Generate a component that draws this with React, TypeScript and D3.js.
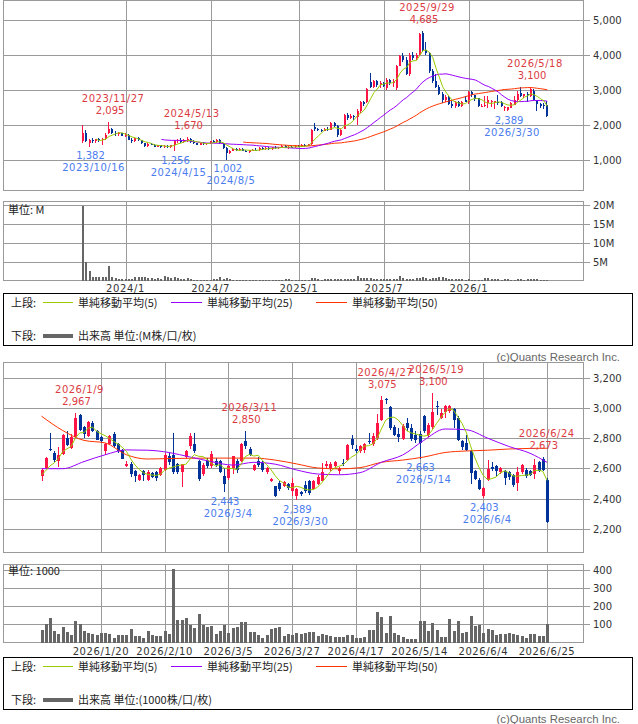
import React from "react";
import * as d3 from "d3";

type OHLC = [number, number, number, number]; // open, high, low, close

// ================= upper panel : weekly =================
const weeklyFirstMonday = "2023/10/2";
const weeklyOHLC: OHLC[] = [
  [1530,1990,1500,1780],[1780,1850,1510,1530],[1500,1600,1382,1560],[1560,1620,1500,1540],[1540,1600,1480,1590],
  [1590,1640,1520,1560],[1560,1620,1420,1600],[1600,1760,1580,1720],[1760,2095,1740,1900],[1900,1920,1740,1780],
  [1780,1820,1700,1730],[1730,1790,1690,1760],[1760,1780,1680,1700],[1700,1760,1660,1720],[1720,1740,1560,1580],
  [1580,1620,1500,1540],[1540,1640,1520,1620],[1620,1650,1540,1560],[1560,1580,1460,1480],[1480,1500,1360,1390],
  [1390,1480,1370,1460],[1460,1500,1420,1440],[1440,1460,1360,1380],[1380,1440,1360,1420],[1420,1440,1340,1360],
  [1360,1430,1340,1400],[1400,1420,1350,1380],[1380,1440,1330,1420],[1420,1560,1256,1530],[1530,1600,1480,1570],
  [1570,1620,1500,1520],[1520,1600,1480,1560],[1560,1670,1520,1600],[1600,1620,1500,1520],[1520,1560,1460,1480],
  [1480,1500,1420,1440],[1440,1500,1420,1480],[1480,1520,1440,1460],[1460,1500,1440,1490],[1490,1540,1460,1530],
  [1530,1580,1500,1520],[1520,1600,1500,1580],[1580,1600,1460,1480],[1480,1500,1320,1340],[1340,1360,1002,1200],
  [1200,1300,1180,1270],[1270,1340,1250,1320],[1320,1350,1260,1280],[1280,1330,1260,1310],[1310,1340,1250,1270],
  [1270,1300,1220,1240],[1240,1290,1200,1280],[1280,1320,1250,1300],[1300,1330,1260,1280],[1280,1360,1270,1340],
  [1340,1370,1300,1320],[1320,1360,1290,1350],[1350,1380,1300,1320],[1320,1370,1300,1360],[1360,1390,1320,1340],
  [1340,1380,1310,1370],[1370,1420,1350,1400],[1400,1420,1330,1350],[1350,1390,1320,1380],[1380,1410,1340,1360],
  [1360,1420,1350,1400],[1400,1430,1360,1380],[1380,1450,1370,1430],[1430,1460,1380,1400],[1400,1470,1390,1450],
  [1460,1900,1440,1850],[1950,2050,1820,1880],[1880,1920,1820,1860],[1860,1900,1800,1840],[1840,1920,1820,1900],
  [1900,1940,1840,1860],[1860,2100,1850,2050],[2050,2080,1940,1980],[1980,2000,1667,1720],[1720,1900,1700,1850],
  [1900,2320,1880,2280],[2280,2350,2150,2200],[2200,2320,2180,2260],[2260,2300,2150,2220],[2220,2450,2000,2400],
  [2400,2680,2350,2650],[2650,2700,2540,2600],[2650,3060,2620,3040],[3240,3480,3050,3100],[3100,3300,3050,3250],
  [3250,3300,3100,3150],[3150,3250,3050,3200],[3200,3230,3080,3120],[3050,3350,3000,3300],[3300,3320,3150,3200],
  [3200,3320,3100,3250],[3050,3720,3000,3700],[3700,4000,3680,3980],[3980,4050,3800,3850],[3850,3950,3420,3450],
  [3450,4050,3400,4000],[4000,4080,3850,3900],[3900,4050,3850,4000],[4000,4620,3980,4600],[4620,4685,4100,4150],
  [4150,4380,4000,4050],[4050,4100,3500,3550],[3550,3600,3200,3250],[3250,3450,3050,3080],[3080,3150,2850,2880],
  [2880,2950,2640,2700],[2700,2850,2650,2800],[2800,2820,2560,2600],[2600,2700,2500,2530],[2530,2680,2500,2650],
  [2650,2700,2520,2550],[2550,2675,2514,2668],[2700,2835,2645,2657],[2652,2967,2612,2934],[2954,2960,2800,2845],
  [2848,2855,2690,2745],[2760,2770,2513,2550],[2525,2590,2515,2535],[2558,2835,2514,2578],[2628,2833,2480,2716],
  [2650,2712,2515,2694],[2652,2685,2443,2680],[2650,2850,2570,2620],[2652,2678,2510,2530],[2481,2535,2408,2503],
  [2415,2525,2389,2520],[2500,2650,2490,2641],[2585,2818,2562,2718],[2712,2958,2700,2900],[2921,3075,2811,2822],
  [2826,2892,2775,2883],[2899,2955,2663,2850],[2822,3100,2810,3015],[2980,3020,2716,2724],[2712,2720,2403,2598],
  [2606,2640,2492,2540],[2560,2630,2452,2555],[2560,2680,2240,2246],
];
const weeklyVolumeM: number[] = [
  19.6,4.8,2.6,0.9,0.8,1.0,0.9,1.0,3.9,1.0,0.6,0.5,0.5,
  0.4,0.4,0.5,1.0,0.9,0.8,0.9,0.6,0.7,0.5,0.6,0.5,1.2,
  0.9,0.7,0.8,0.6,0.5,0.4,0.6,0.3,0.2,0.2,0.2,0.2,0.2,
  0.2,0.3,0.4,0.8,0.5,0.7,0.3,0.2,0.1,0.1,0.1,0.1,0.1,
  0.1,0.1,0.1,0.1,0.1,0.1,0.1,0.2,0.1,0.2,0.4,0.4,0.2,
  0.1,0.1,0.1,0.2,0.2,0.6,0.6,0.3,0.2,0.4,0.3,0.5,0.4,
  0.5,0.4,0.5,0.3,0.4,0.3,1.2,0.7,0.6,0.7,0.7,0.5,0.4,
  0.3,0.3,0.4,0.5,0.4,0.3,1.3,0.6,0.5,0.5,0.4,0.6,0.7,
  0.8,0.6,0.5,0.7,0.6,0.8,1.0,0.6,0.5,0.4,0.4,0.3,0.3,
  0.2,0.35,0.26,0.22,0.23,0.2,0.55,0.56,0.43,0.34,0.43,0.18,0.29,
  0.27,0.19,0.17,0.37,0.39,0.07,0.3,0.3,0.43,0.46,0.25,0.19,0.22,
];
const weeklyHighLabels: [string, number][] = [["2023/11/27",2095],["2024/5/13",1670],["2025/9/29",4685],["2026/5/18",3100]];
const weeklyLowLabels: [string, number][] = [["2023/10/16",1382],["2024/4/15",1256],["2024/8/5",1002],["2026/3/30",2389]];
const weeklyPriceTicks = [1000,2000,3000,4000,5000];
const weeklyVolumeTicks = [5,10,15,20];
const weeklyVolumeTickLabels = ["5M","10M","15M","20M"];

// ================= lower panel : daily =================
const dailyFirst = "2025/12/25";
const dailyLast = "2026/6/25";
const marketHolidays = ["2025/12/31","2026/1/1","2026/1/2","2026/1/12","2026/2/11","2026/2/23","2026/3/20","2026/4/29","2026/5/4","2026/5/5","2026/5/6"];
const dailyOHLC: OHLC[] = [
  [2547,2602,2514,2591],[2602,2675,2595,2668],[2730,2835,2712,2720],[2701,2712,2645,2657],[2652,2743,2612,2690],
  [2697,2830,2690,2822],[2800,2848,2745,2756],[2736,2830,2730,2808],[2808,2967,2795,2934],[2954,2960,2845,2852],
  [2875,2880,2800,2830],[2811,2915,2805,2905],[2900,2910,2840,2845],[2848,2855,2785,2790],[2808,2815,2770,2778],
  [2712,2770,2690,2762],[2760,2820,2752,2812],[2830,2840,2735,2745],[2760,2770,2700,2712],[2723,2730,2660,2665],
  [2613,2650,2607,2628],[2630,2640,2545,2560],[2584,2590,2513,2550],[2525,2565,2515,2558],[2584,2590,2515,2558],
  [2525,2590,2518,2576],[2570,2575,2535,2540],[2575,2580,2515,2535],[2558,2610,2550,2602],[2591,2700,2585,2690],
  [2680,2700,2625,2642],[2690,2835,2565,2578],[2628,2635,2560,2578],[2578,2632,2480,2628],[2672,2720,2665,2712],
  [2745,2833,2730,2817],[2762,2833,2700,2716],[2650,2655,2515,2527],[2562,2635,2553,2620],[2650,2668,2600,2613],
  [2613,2712,2602,2694],[2652,2668,2612,2625],[2646,2657,2568,2575],[2550,2600,2443,2498],[2536,2625,2525,2613],
  [2602,2685,2562,2680],[2650,2660,2570,2592],[2650,2770,2640,2760],[2782,2850,2730,2745],[2730,2740,2685,2690],
  [2591,2628,2585,2620],[2652,2678,2612,2620],[2635,2650,2575,2592],[2575,2606,2562,2602],[2520,2535,2510,2530],
  [2481,2485,2408,2415],[2503,2515,2450,2462],[2481,2514,2474,2510],[2496,2503,2459,2470],[2452,2535,2415,2503],
  [2415,2470,2389,2465],[2445,2452,2420,2430],[2492,2514,2437,2448],[2518,2525,2426,2440],[2462,2525,2455,2520],
  [2500,2555,2490,2545],[2520,2635,2515,2575],[2613,2650,2602,2628],[2602,2640,2580,2628],[2613,2650,2606,2641],
  [2585,2612,2562,2597],[2636,2665,2613,2628],[2657,2760,2650,2756],[2795,2818,2730,2756],[2730,2752,2700,2718],
  [2712,2756,2700,2745],[2723,2767,2700,2760],[2782,2833,2760,2772],[2760,2833,2745,2811],[2800,2958,2789,2900],
  [2921,3075,2914,3053],[3057,3065,3025,3050],[3002,3010,2855,2866],[2870,2888,2811,2822],[2826,2866,2775,2805],
  [2795,2892,2789,2883],[2899,2932,2844,2866],[2866,2892,2782,2795],[2822,2844,2767,2790],[2830,2845,2663,2765],
  [2945,2955,2835,2850],[2822,2900,2810,2888],[2870,3100,2860,2975],[3012,3046,2954,3005],[2935,2990,2925,2965],
  [2972,3020,2932,3015],[2980,3020,2965,3015],[2990,3000,2866,2921],[2932,2945,2782,2790],[2778,2789,2723,2740],
  [2767,2822,2716,2724],[2712,2720,2496,2570],[2580,2590,2525,2532],[2525,2536,2459,2466],[2415,2480,2403,2470],
  [2525,2657,2514,2598],[2606,2640,2584,2596],[2613,2624,2548,2585],[2575,2612,2560,2602],[2585,2592,2492,2536],
  [2576,2585,2525,2540],[2555,2562,2480,2488],[2505,2612,2452,2576],[2576,2630,2562,2624],[2590,2600,2536,2550],
  [2585,2592,2547,2555],[2560,2660,2531,2625],[2641,2650,2575,2585],[2663,2673,2580,2592],[2525,2536,2240,2246],
];
const dailyVolumeK: number[] = [
  68,100,135,63,46,85,57,40,118,102,
  63,52,46,44,52,50,46,24,39,44,
  40,74,35,35,24,63,39,35,35,63,
  48,407,124,122,135,98,81,157,98,87,
  91,46,63,96,52,81,87,113,113,57,
  57,39,24,39,74,81,87,35,46,39,
  52,46,54,57,57,37,46,41,37,30,
  30,28,44,43,25,25,30,70,70,170,
  140,50,145,55,40,30,20,20,20,120,
  118,65,105,70,30,30,130,62,118,55,
  60,145,90,95,50,75,70,42,45,45,
  50,45,42,35,25,45,45,35,38,100,
];
const closesBeforeFirst = [2540,2555,2560,2545];
// 25- and 50-day averages every 5 sessions (and at the last one)
const dailyMA25Samples = [2598,2598,2645,2690,2722,2720,2705,2675,2645,2622,2640,2628,2590,2563,2558,2572,2640,2688,2785,2860,2855,2800,2745,2700,2640];
const dailyMA50Samples = [2945,2850,2785,2768,2690,2662,2665,2667,2668,2668,2668,2655,2630,2603,2597,2605,2640,2655,2675,2705,2715,2720,2728,2732,2733];
const dailyHighLabels: [string, number][] = [["2026/1/9",2967],["2026/3/11",2850],["2026/4/27",3075],["2026/5/19",3100],["2026/6/24",2673]];
const dailyLowLabels: [string, number][] = [["2026/3/4",2443],["2026/3/30",2389],["2026/5/14",2663],["2026/6/4",2403]];
const dailyPriceTicks = [2200,2400,2600,2800,3000,3200];
const dailyVolumeTicks = [100,200,300,400];

// ================= styling =================
const W = 638, H = 724;
const RED = "#ff1446", BLUE = "#003399";
const MA5C = "#99cc00", MA25C = "#9900ff", MA50C = "#ff3300";
const GRID = "#9a9a9a";
const HI_TXT = "#dc3b44", LO_TXT = "#4a7cf0";
const NUM_FONT = "'DejaVu Sans', Verdana, sans-serif";
const JP_FONT = "'Noto Sans CJK JP', 'DejaVu Sans', sans-serif";

const parseD = (s: string) => { const [y, m, d] = s.split("/").map(Number); return new Date(y, m - 1, d); };
const fmtD = (d: Date) => `${d.getFullYear()}/${d.getMonth() + 1}/${d.getDate()}`;
const fmtN = d3.format(",");

function sma(closes: number[], n: number, prior: number[] = []): (number | null)[] {
  const all = prior.concat(closes);
  return closes.map((_, i) => {
    const j = i + prior.length;
    if (j + 1 < n) return null;
    return d3.mean(all.slice(j - n + 1, j + 1)) as number;
  });
}

function tradingDays(): Date[] {
  const hol = new Set(marketHolidays);
  const out: Date[] = [];
  const end = parseD(dailyLast);
  for (let d = parseD(dailyFirst); d <= end; d = d3.timeDay.offset(d, 1)) {
    const wd = d.getDay();
    if (wd === 0 || wd === 6 || hol.has(fmtD(d))) continue;
    out.push(d);
  }
  return out;
}

function Candles({ data, x, y, body }: { data: OHLC[]; x: (i: number) => number; y: d3.ScaleLinear<number, number>; body: number }) {
  return (
    <g shapeRendering="crispEdges">
      {data.map(([o, h, l, c], i) => {
        const r = Math.round(x(i));
        const col = c >= o ? RED : BLUE;
        const top = Math.round(y(Math.max(o, c)));
        const bot = Math.round(y(Math.min(o, c)));
        const left = body === 3 ? r - 1 : r - 1;
        const wx = body === 3 ? r + 0.5 : r - 0.5;
        return (
          <g key={i}>
            <line x1={wx} x2={wx} y1={y(h)} y2={y(l)} stroke={col} strokeWidth={1} />
            <rect x={left} y={top} width={body} height={Math.max(1, bot - top)} fill={col} />
          </g>
        );
      })}
    </g>
  );
}

function Bars({ data, x, y, w }: { data: number[]; x: (i: number) => number; y: d3.ScaleLinear<number, number>; w: number }) {
  const base = y(0);
  return (
    <g shapeRendering="crispEdges">
      {data.map((v, i) => {
        const r = Math.round(x(i));
        const t = Math.round(y(v));
        return <rect key={i} x={r - 1} y={t} width={w} height={Math.max(0, base - t)} fill="#666" />;
      })}
    </g>
  );
}

function Frame({ x0, y0, x1, y1 }: { x0: number; y0: number; x1: number; y1: number }) {
  return <rect x={x0 + 0.5} y={y0 + 0.5} width={x1 - x0} height={y1 - y0} fill="none" stroke={GRID} shapeRendering="crispEdges" />;
}

function HLabels({ items, xOf, y, high }: { items: { i: number; v: number; date: string }[]; xOf: (i: number) => number; y: d3.ScaleLinear<number, number>; high: boolean }) {
  return (
    <g fontFamily={NUM_FONT} fontSize={10} fill={high ? HI_TXT : LO_TXT} textAnchor="middle">
      {items.map((it, k) => {
        const cx = xOf(it.i);
        const yy = y(it.v);
        const vb = high ? yy - 8 : yy + 12.5;
        const db = high ? vb - 12 : vb + 12;
        return (
          <g key={k}>
            <text x={cx + 1} y={vb}>{fmtN(it.v)}</text>
            <text x={cx + 4} y={db} letterSpacing={0.5}>{it.date}</text>
          </g>
        );
      })}
    </g>
  );
}

function Legend({ y0, unit }: { y0: number; unit: string }) {
  const r1 = y0 + 13.5, r2 = y0 + 47;
  return (
    <g fontFamily={JP_FONT} fontSize={11} fill="#222">
      <rect x={3.5} y={y0 + 0.5} width={629} height={52} fill="none" stroke="#000" shapeRendering="crispEdges" />
      <text x={11} y={r1}>上段:</text>
      <line x1={43} x2={73} y1={r1 - 4} y2={r1 - 4} stroke={MA5C} />
      <text x={78} y={r1}>単純移動平均(5)</text>
      <line x1={171} x2={202} y1={r1 - 4} y2={r1 - 4} stroke={MA25C} />
      <text x={207} y={r1}>単純移動平均(25)</text>
      <line x1={316} x2={347} y1={r1 - 4} y2={r1 - 4} stroke={MA50C} />
      <text x={352} y={r1}>単純移動平均(50)</text>
      <text x={11} y={r2}>下段:</text>
      <line x1={43} x2={73} y1={r2 - 4} y2={r2 - 4} stroke="#666" strokeWidth={4} />
      <text x={78} y={r2}>{unit}</text>
    </g>
  );
}

export default function App() {
  // ---------- upper panel ----------
  const wFirst = parseD(weeklyFirstMonday);
  const wDates = weeklyOHLC.map((_, i) => d3.timeDay.offset(wFirst, 7 * i));
  const xW = d3.scaleLinear().domain([0, weeklyOHLC.length - 1]).range([83, 547.3]);
  const yW = d3.scaleLinear().domain([0, 5000]).range([195, 20]);
  const yWV = d3.scaleLinear().domain([0, 20]).range([280.5, 204.5]);
  const wClose = weeklyOHLC.map((d) => d[3]);
  const wMA = [5, 25, 50].map((n) => sma(wClose, n));
  const wLine = d3.line<number | null>().defined((v) => v != null).x((_, i) => xW(i)).y((v) => yW(v as number));
  const wGrid = wDates.map((d, i) => ({ d, i })).filter(({ d }) => (d.getMonth() === 0 || d.getMonth() === 6) && d.getDate() <= 7);
  const wIndex = (s: string) => Math.round((parseD(s).getTime() - wFirst.getTime()) / (7 * 864e5));
  const wHi = weeklyHighLabels.map(([s, v]) => ({ i: wIndex(s), v, date: s }));
  const wLo = weeklyLowLabels.map(([s, v]) => ({ i: wIndex(s), v, date: s }));

  // ---------- lower panel ----------
  const dDates = tradingDays();
  const xD = d3.scaleLinear().domain([0, dailyOHLC.length - 1]).range([41.5, 547]);
  const yD = d3.scaleLinear().domain([2200, 3200]).range([529, 377.5]);
  const yDV = d3.scaleLinear().domain([0, 400]).range([642.5, 570]);
  const dClose = dailyOHLC.map((d) => d[3]);
  const dMA5 = sma(dClose, 5, closesBeforeFirst);
  const sampleIdx = d3.range(0, dailyOHLC.length, 5).concat([dailyOHLC.length - 1]);
  const dLine = d3.line<number | null>().defined((v) => v != null).x((_, i) => xD(i)).y((v) => yD(v as number));
  const sLine = d3.line<number>().x((_, k) => xD(sampleIdx[k])).y((v) => yD(v)).curve(d3.curveMonotoneX);
  const dTicks = d3.range(14, dailyOHLC.length, 15);
  const dIndex = (s: string) => dDates.findIndex((d) => fmtD(d) === s);
  const dHi = dailyHighLabels.map(([s, v]) => ({ i: dIndex(s), v, date: s }));
  const dLo = dailyLowLabels.map(([s, v]) => ({ i: dIndex(s), v, date: s }));

  const X0 = 3, X1 = 583;
  const tickLabel = (y: number, t: string, k: number) => (
    <g key={k}>
      <line x1={X1} x2={590} y1={Math.round(y) + 0.5} y2={Math.round(y) + 0.5} stroke={GRID} shapeRendering="crispEdges" />
      <text x={593} y={y + 4} fontFamily={NUM_FONT} fontSize={10} fill="#333">{t}</text>
    </g>
  );
  const hGrid = (y: number, k: number) => (
    <line key={k} x1={X0} x2={X1} y1={Math.round(y) + 0.5} y2={Math.round(y) + 0.5} stroke={GRID} shapeRendering="crispEdges" />
  );
  const vGrid = (x: number, y0: number, y1: number, k: number) => (
    <line key={k} x1={Math.round(x) + 0.5} x2={Math.round(x) + 0.5} y1={y0} y2={y1} stroke={GRID} shapeRendering="crispEdges" />
  );

  return (
    <svg width={W} height={H} style={{ position: "absolute", left: 0, top: 0, background: "#fff" }}>
      <rect width={W} height={H} fill="#fff" />

      {/* ===== upper price (weekly) ===== */}
      {weeklyPriceTicks.map((t, k) => hGrid(yW(t), k))}
      {wGrid.map(({ i }, k) => vGrid(xW(i), 0, 190, k))}
      <Frame x0={X0} y0={0} x1={X1} y1={190} />
      {weeklyPriceTicks.map((t, k) => tickLabel(yW(t), fmtN(t), k))}
      <Candles data={weeklyOHLC} x={xW} y={yW} body={2} />
      <path d={wLine(wMA[2]) || ""} fill="none" stroke={MA50C} strokeWidth={1} />
      <path d={wLine(wMA[1]) || ""} fill="none" stroke={MA25C} strokeWidth={1} />
      <path d={wLine(wMA[0]) || ""} fill="none" stroke={MA5C} strokeWidth={1} />
      <HLabels items={wHi} xOf={xW} y={yW} high={true} />
      <HLabels items={wLo} xOf={xW} y={yW} high={false} />

      {/* ===== upper volume ===== */}
      {weeklyVolumeTicks.map((t, k) => hGrid(yWV(t), k))}
      {wGrid.map(({ i }, k) => vGrid(xW(i), 201, 281, k))}
      <Frame x0={X0} y0={201} x1={X1} y1={280} />
      {weeklyVolumeTicks.map((t, k) => tickLabel(yWV(t), weeklyVolumeTickLabels[k], k))}
      <Bars data={weeklyVolumeM} x={xW} y={yWV} w={2} />
      <text x={8} y={214} fontFamily={JP_FONT} fontSize={11} fill="#222">単位: M</text>
      <g fontFamily={NUM_FONT} fontSize={10} fill="#333" textAnchor="middle">
        {wGrid.map(({ d, i }, k) => (
          <text key={k} x={xW(i)} y={292} letterSpacing={0.6}>{`${d.getFullYear()}/${d.getMonth() + 1}`}</text>
        ))}
      </g>

      <Legend y0={293} unit="出来高 単位:(M株/口/枚)" />
      <text x={620} y={361} textAnchor="end" fontFamily="'Liberation Sans', Arial, sans-serif" fontSize={11.4} fill="#666">(c)Quants Research Inc.</text>

      {/* ===== lower price (daily) ===== */}
      {dailyPriceTicks.map((t, k) => hGrid(yD(t), k))}
      {dTicks.map((i, k) => vGrid(xD(i), 362, 552, k))}
      <Frame x0={X0} y0={362} x1={X1} y1={552} />
      {dailyPriceTicks.map((t, k) => tickLabel(yD(t), fmtN(t), k))}
      <Candles data={dailyOHLC} x={xD} y={yD} body={3} />
      <path d={sLine(dailyMA50Samples) || ""} fill="none" stroke={MA50C} strokeWidth={1} />
      <path d={sLine(dailyMA25Samples) || ""} fill="none" stroke={MA25C} strokeWidth={1} />
      <path d={dLine(dMA5) || ""} fill="none" stroke={MA5C} strokeWidth={1} />
      <HLabels items={dHi} xOf={xD} y={yD} high={true} />
      <HLabels items={dLo} xOf={xD} y={yD} high={false} />

      {/* ===== lower volume ===== */}
      {dailyVolumeTicks.map((t, k) => hGrid(yDV(t), k))}
      {dTicks.map((i, k) => vGrid(xD(i), 564, 642, k))}
      <Frame x0={X0} y0={564} x1={X1} y1={642} />
      {dailyVolumeTicks.map((t, k) => tickLabel(yDV(t), String(t), k))}
      <Bars data={dailyVolumeK} x={xD} y={yDV} w={3} />
      <text x={8} y={575} fontFamily={JP_FONT} fontSize={11} fill="#222">単位: 1000</text>
      <g fontFamily={NUM_FONT} fontSize={10} fill="#333" textAnchor="middle">
        {dTicks.map((i, k) => (
          <text key={k} x={xD(i)} y={655} letterSpacing={0.6}>{fmtD(dDates[i])}</text>
        ))}
      </g>

      <Legend y0={657} unit="出来高 単位:(1000株/口/枚)" />
      <text x={620} y={723} textAnchor="end" fontFamily="'Liberation Sans', Arial, sans-serif" fontSize={11.4} fill="#666">(c)Quants Research Inc.</text>
    </svg>
  );
}
